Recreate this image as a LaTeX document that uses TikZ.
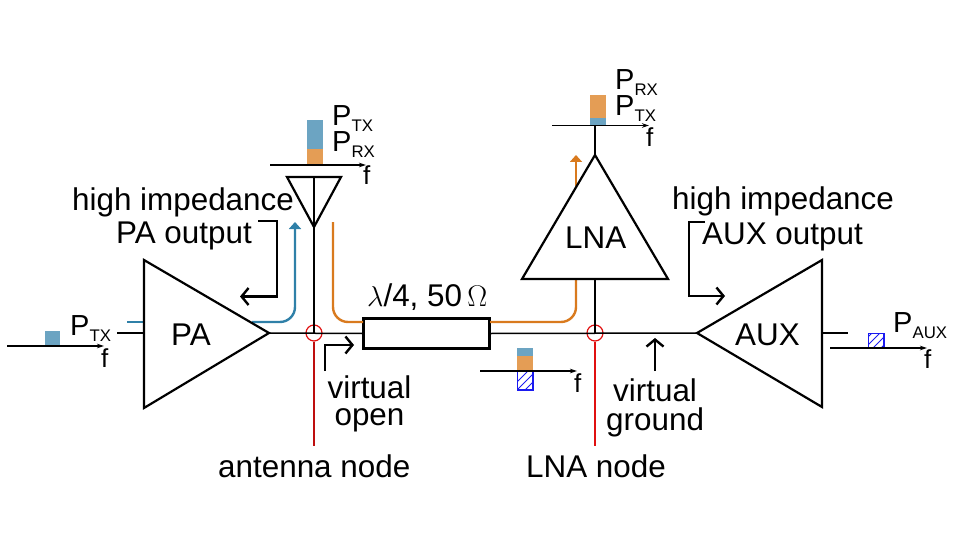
\documentclass[tikz,border=0pt]{standalone}
\usepackage{fontspec}
\setmainfont{Liberation Sans}
\usetikzlibrary{arrows.meta}
\definecolor{sigblue}{HTML}{2F80A8}
\definecolor{barblue}{HTML}{6CA4C2}
\definecolor{sigorange}{HTML}{D97A1E}
\definecolor{barorange}{HTML}{E49D55}
\definecolor{hatchblue}{HTML}{1A1AF0}
\definecolor{nodered}{HTML}{E01010}
\newcommand{\bigtxt}{\fontsize{31.4}{27}\selectfont}
\newcommand{\powtxt}[1]{\fontsize{29}{29}\selectfont P\raisebox{-6pt}{\fontsize{16.8}{16.8}\selectfont #1}}
\tikzset{
  x=1pt,y=-1pt,
  lbl/.style={anchor=base west,inner sep=0pt,font=\bigtxt,text=black},
  pow/.style={anchor=base west,inner sep=0pt},
  flbl/.style={anchor=base west,inner sep=0pt,font=\fontsize{26}{26}\selectfont},
  amp/.style={draw=black,line width=2.2pt,line join=miter,fill=none},
  wire/.style={draw=black,line width=1.5pt},
  axis/.style={draw=black,line width=1.1pt,-{Stealth[length=7pt,width=4.5pt]}},
  callout/.style={draw=black,line width=2.8pt,-{Straight Barb[length=7pt,width=17pt,line width=2.4pt]}},
  sigb/.style={draw=sigblue,line width=2.4pt,rounded corners=15pt},
  sigo/.style={draw=sigorange,line width=2.4pt,rounded corners=15pt},
  probe/.style={draw=nodered,line width=1.2pt},
  ring/.style={circle,draw=nodered,line width=1.2pt,minimum size=16pt,inner sep=0pt,fill=none},
  barb/.style={fill=barblue,draw=none},
  baro/.style={fill=barorange,draw=none},
}
\begin{document}
\begin{tikzpicture}
\useasboundingbox (0,0) rectangle (960,540);
% named points
\coordinate (paTop) at (144,260);
\coordinate (paBot) at (144,408);
\coordinate (paTip) at (269,333);
\coordinate (paIn) at (144,333);
\coordinate (paStub) at (117,333);
\coordinate (auxTip) at (697,333);
\coordinate (auxTop) at (822,260);
\coordinate (auxBot) at (822,407);
\coordinate (auxIn) at (822,333);
\coordinate (auxStub) at (848,333);
\coordinate (lnaTop) at (595,155);
\coordinate (lnaL) at (522,279);
\coordinate (lnaR) at (668,279);
\coordinate (lnaIn) at (595,279);
\coordinate (lnaOut) at (595,125);
\coordinate (antL) at (287,177);
\coordinate (antR) at (341,177);
\coordinate (antTip) at (314,227);
\coordinate (antTop) at (314,177);
\node[ring] (antNode) at (314,333) {};
\node[ring] (lnaNode) at (595,333) {};
\node[draw=black,line width=2.6pt,minimum width=125.5pt,minimum height=29.5pt,inner sep=0pt,fill=white] (tline) at (426.5,333.5) {};
\coordinate (antEnd) at (314,446);
\coordinate (lnaEnd) at (595,446);
% wires
\draw[wire] (paStub) -- (paIn);
\draw[wire] (paTip) -- (tline.west);
\draw[wire] (tline.east) -- (auxTip);
\draw[wire] (auxIn) -- (auxStub);
\draw[wire] (antTop) -- (314,333);
\draw[wire] (lnaIn) -- (595,333);
\draw[wire] (lnaTop) -- (lnaOut);
% probes
\draw[probe,draw=nodered!85!black] (antNode.south) -- (antEnd);
\draw[probe] (lnaNode.south) -- (lnaEnd);
% signal paths
\coordinate (bIn) at (127,322);
\coordinate (bInEnd) at (144,322);
\coordinate (bS) at (252,322);
\coordinate (bC) at (295,322);
\coordinate (bE) at (295,222);
\draw[draw=sigblue,line width=2.4pt] (bIn) -- (bInEnd);
\draw[sigb,-{Triangle[length=7pt,width=12pt]}] (bS) -- (bC) -- (bE);
\coordinate (oS) at (333,222);
\coordinate (oC) at (333,322);
\coordinate (oE) at (363,322);
\draw[sigo] (oS) -- (oC) -- (oE);
\coordinate (o2S) at (490,322);
\coordinate (o2C) at (576,322);
\coordinate (o2E) at (576,279);
\draw[sigo] (o2S) -- (o2C) -- (o2E);
\coordinate (o3S) at (576,186);
\coordinate (o3E) at (576,155);
\draw[draw=sigorange,line width=2.4pt,-{Triangle[length=7pt,width=12pt]}] (o3S) -- (o3E);
% amplifiers
\draw[amp] (paTop) -- (paTip) -- (paBot) -- cycle;
\draw[amp] (auxTip) -- (auxTop) -- (auxBot) -- cycle;
\draw[amp] (lnaTop) -- (lnaR) -- (lnaL) -- cycle;
\draw[amp] (antL) -- (antR) -- (antTip) -- cycle;
% callouts
\coordinate (c1a) at (258,221); \coordinate (c1b) at (277,221);
\coordinate (c1c) at (277,296.5); \coordinate (c1d) at (240,296.5);
\draw[callout] (c1a) -- (c1b) -- (c1c) -- (c1d);
\coordinate (c2a) at (705,222); \coordinate (c2b) at (689,222);
\coordinate (c2c) at (689,296); \coordinate (c2d) at (725,296);
\draw[callout] (c2a) -- (c2b) -- (c2c) -- (c2d);
\coordinate (c3a) at (325,371); \coordinate (c3b) at (325,345);
\coordinate (c3d) at (354,345);
\draw[callout] (c3a) -- (c3b) -- (c3d);
\coordinate (c4a) at (655,371); \coordinate (c4d) at (655,338);
\draw[callout] (c4a) -- (c4d);
% spectra bars
\fill[barb] (44.5,331) rectangle (60,346);
\fill[barb] (307,120) rectangle (322.5,149);
\fill[baro] (307,149) rectangle (322.5,165);
\fill[baro] (590,95) rectangle (606,118);
\fill[barb] (590,118) rectangle (606,125);
\fill[barb] (517,348) rectangle (533,356);
\fill[baro] (517,356) rectangle (533,371);
\begin{scope}
\clip (517.5,371) rectangle (533,390);
\foreach \k in {0,8,16,24,32}{\draw[hatchblue,line width=1pt] (505+\k,394) -- (505+\k+22,372);}
\end{scope}
\draw[hatchblue,line width=1.1pt] (517.5,371) -- (517.5,390) -- (533,390) -- (533,371);
\begin{scope}
\clip (868.5,333.5) rectangle (884,348);
\foreach \k in {0,8,16,24,32}{\draw[hatchblue,line width=1pt] (853+\k,352) -- (853+\k+22,330);}
\end{scope}
\draw[hatchblue,line width=1.1pt] (868.5,333.5) rectangle (884,348);
% spectra axes
\coordinate (ax1a) at (7,346); \coordinate (ax1b) at (104,346);
\draw[axis] (ax1a) -- (ax1b);
\coordinate (ax2a) at (270,165); \coordinate (ax2b) at (366,165);
\draw[axis] (ax2a) -- (ax2b);
\coordinate (ax3a) at (552,125.5); \coordinate (ax3b) at (649,125.5);
\draw[axis] (ax3a) -- (ax3b);
\coordinate (ax4a) at (480,371); \coordinate (ax4b) at (577,371);
\draw[axis] (ax4a) -- (ax4b);
\coordinate (ax5a) at (830,348); \coordinate (ax5b) at (927,348);
\draw[axis] (ax5a) -- (ax5b);
% text
\node[lbl] (t1) at (72,210) {high impedance};
\node[lbl] (t2) at (116,243) {PA output};
\node[lbl] (t3) at (171,345) {PA};
\node[lbl] (t4) at (565,248) {LNA};
\node[lbl] (t5) at (735,345) {AUX};
\node[lbl] (t6) at (672,209) {high impedance};
\node[lbl] (t7) at (702,244) {AUX output};
\node[lbl] (t8) at (367,306) {\scalebox{1.15}{$\lambda$}/4, 50\,\scalebox{1.2}{$\Omega$}};
\node[lbl,anchor=center,align=center] (t9) at (369.5,404) {virtual\\open};
\node[lbl] (t11) at (613,401) {virtual};
\node[lbl] (t12) at (606,430) {ground};
\node[lbl] (t13) at (218,477) {antenna node};
\node[lbl] (t14) at (526,477) {LNA node};
\node[pow] (p1) at (70,335) {\powtxt{TX}};
\node[pow] (p2) at (332,126) {\powtxt{TX}};
\node[pow] (p3) at (332,152) {\powtxt{RX}};
\node[pow] (p4) at (615,90) {\powtxt{RX}};
\node[pow] (p5) at (615,116) {\powtxt{TX}};
\node[pow] (p6) at (893,332) {\powtxt{AUX}};
\node[flbl] (f1) at (101,367) {f};
\node[flbl] (f2) at (363,185) {f};
\node[flbl] (f3) at (646,147) {f};
\node[flbl] (f4) at (574,392) {f};
\node[flbl] (f5) at (924,368) {f};
\end{tikzpicture}
\end{document}
